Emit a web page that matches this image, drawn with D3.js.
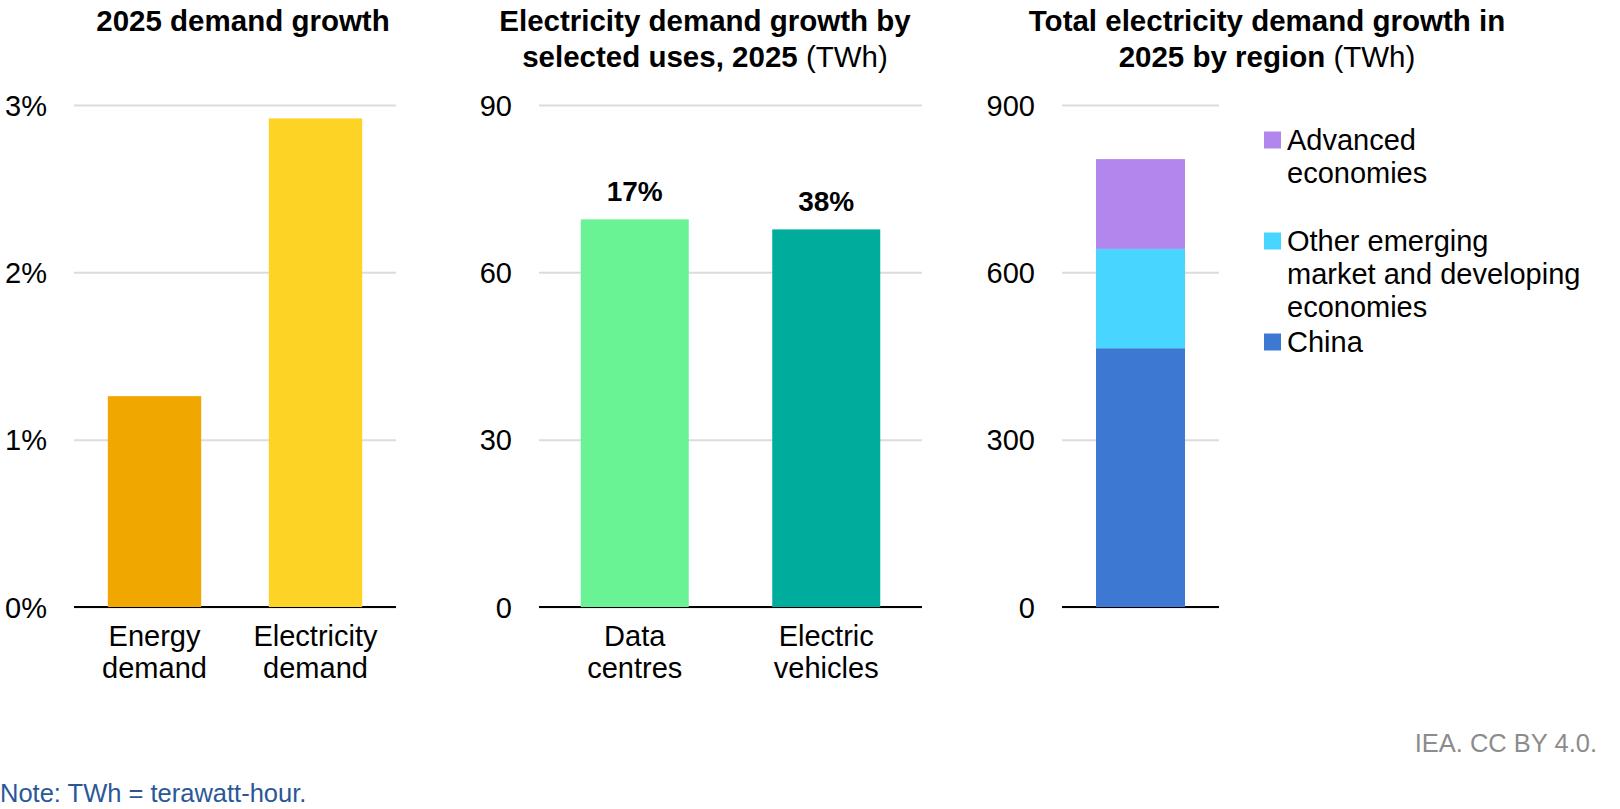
<!DOCTYPE html>
<html>
<head>
<meta charset="utf-8">
<script src="https://cdn.jsdelivr.net/npm/d3@7"></script>
<style>
    body { margin: 0; background: #fff; }
    svg { display: block; font-family: "Liberation Sans", Arial, sans-serif; }
    .grid line { stroke: #dcdcdc; stroke-width: 2; }
    .grid text { font-size: 29px; fill: #000; }
</style>
</head>
<body>
<div class="container"></div>
<script>
// panel 1: 2025 demand growth (%)
var demandCats = ['Energy demand', 'Electricity demand'];
var demandGrowth = [1.26, 2.92];
var demandTicks = [0, 1, 2, 3];
var demandColors = ['#f0a800', '#fdd325'];

// panel 2: growth by selected uses (TWh)
var useCats = ['Data centres', 'Electric vehicles'];
var useValues = [69.5, 67.7];
var useLabels = ['17%', '38%'];
var useTicks = [0, 30, 60, 90];
var useColors = ['#69f394', '#00ad9d'];

// panel 3: growth by region (TWh), stacked bottom -> top
var regionNames = ['China', 'Other emerging\nmarket and developing\neconomies', 'Advanced\neconomies'];
var regionValues = [464, 178, 161];
var regionTicks = [0, 300, 600, 900];
var regionColors = ['#3d78d3', '#48d5ff', '#b187ee'];

var W = 1620, H = 809;
var top0 = 105, base = 607;

var svg = d3.select('.container')
    .append('svg')
    .attr('width', W)
    .attr('height', H);

// gridlines + tick labels
function grid(x0, x1, y, ticks, fmt) {
    var axis = d3.axisLeft(y)
        .tickValues(ticks)
        .tickFormat(fmt)
        .tickSizeInner(-(x1 - x0))
        .tickSizeOuter(0)
        .tickPadding(27);
    var g = svg.append('g')
        .attr('class', 'grid')
        .attr('transform', 'translate(' + x0 + ',0)')
        .call(axis);
    g.select('.domain').remove();
    g.selectAll('text').attr('dy', '0.35em');
    // baseline
    svg.append('line')
        .attr('x1', x0).attr('x2', x1)
        .attr('y1', y(0)).attr('y2', y(0))
        .attr('stroke', '#000')
        .attr('stroke-width', 2);
}

function title(cx, lines) {
    lines.forEach(function (ln, i) {
        var t = svg.append('text')
            .attr('x', cx)
            .attr('y', 31 + i * 36)
            .attr('text-anchor', 'middle')
            .style('font-size', '29.5px');
        t.append('tspan').style('font-weight', 'bold').text(ln[0]);
        if (ln[1]) t.append('tspan').text(ln[1]);
    });
}

function catLabels(x, cats) {
    cats.forEach(function (c) {
        var words = c.split(' ');
        var t = svg.append('text')
            .attr('text-anchor', 'middle')
            .style('font-size', '29px');
        words.forEach(function (w, i) {
            t.append('tspan')
                .attr('x', x(c) + x.bandwidth() / 2)
                .attr('y', 646 + i * 32)
                .text(w);
        });
    });
}

!function () {
    var x0 = 74, x1 = 396;
    var y = d3.scaleLinear().domain([0, 3]).range([base, top0]);
    var x = d3.scaleBand().domain(demandCats).range([x0, x1]).paddingInner(0.42).paddingOuter(0.21);

    grid(x0, x1, y, demandTicks, function (d) { return d + '%'; });

    svg.selectAll('rect.demand')
        .data(demandGrowth)
        .enter()
        .append('rect')
        .attr('class', 'demand')
        .attr('x', function (d, i) { return x(demandCats[i]); })
        .attr('y', function (d) { return y(d); })
        .attr('width', x.bandwidth())
        .attr('height', function (d) { return y(0) - y(d); })
        .attr('fill', function (d, i) { return demandColors[i]; });

    catLabels(x, demandCats);
    title(243, [['2025 demand growth']]);
}();

!function () {
    var x0 = 539, x1 = 922;
    var y = d3.scaleLinear().domain([0, 90]).range([base, top0]);
    var x = d3.scaleBand().domain(useCats).range([x0, x1]).paddingInner(0.436).paddingOuter(0.218);

    grid(x0, x1, y, useTicks, d3.format('d'));

    svg.selectAll('rect.use')
        .data(useValues)
        .enter()
        .append('rect')
        .attr('class', 'use')
        .attr('x', function (d, i) { return x(useCats[i]); })
        .attr('y', function (d) { return y(d); })
        .attr('width', x.bandwidth())
        .attr('height', function (d) { return y(0) - y(d); })
        .attr('fill', function (d, i) { return useColors[i]; });

    svg.selectAll('text.uselabel')
        .data(useValues)
        .enter()
        .append('text')
        .attr('class', 'uselabel')
        .attr('x', function (d, i) { return x(useCats[i]) + x.bandwidth() / 2; })
        .attr('y', function (d) { return y(d) - 18; })
        .attr('text-anchor', 'middle')
        .style('font-size', '28px')
        .style('font-weight', 'bold')
        .text(function (d, i) { return useLabels[i]; });

    catLabels(x, useCats);
    title(705, [['Electricity demand growth by'], ['selected uses, 2025', ' (TWh)']]);
}();

!function () {
    var x0 = 1062, x1 = 1219;
    var y = d3.scaleLinear().domain([0, 900]).range([base, top0]);
    var x = d3.scaleBand().domain(['2025']).range([x0, x1]).paddingInner(0.433).paddingOuter(0.2165);

    grid(x0, x1, y, regionTicks, d3.format('d'));

    var row = {};
    regionNames.forEach(function (n, i) { row[n] = regionValues[i]; });
    var stack = d3.stack().keys(regionNames)([row]);

    svg.selectAll('rect.region')
        .data(stack)
        .enter()
        .append('rect')
        .attr('class', 'region')
        .attr('x', x('2025'))
        .attr('y', function (s) { return y(s[0][1]); })
        .attr('width', x.bandwidth())
        .attr('height', function (s) { return y(s[0][0]) - y(s[0][1]); })
        .attr('fill', function (s, i) { return regionColors[i]; });

    // legend, top item first
    var order = regionNames.map(function (n, i) { return i; }).reverse();
    var lg = svg.append('g').attr('transform', 'translate(1264,140)');
    order.forEach(function (idx, k) {
        var g = lg.append('g').attr('transform', 'translate(0,' + k * 101 + ')');
        g.append('rect')
            .attr('x', 0).attr('y', -8.5)
            .attr('width', 17).attr('height', 17)
            .attr('fill', regionColors[idx]);
        var t = g.append('text').style('font-size', '29px');
        regionNames[idx].split('\n').forEach(function (ln, j) {
            t.append('tspan')
                .attr('x', 23)
                .attr('y', 10 + j * 33)
                .text(ln);
        });
    });

    title(1267, [['Total electricity demand growth in'], ['2025 by region', ' (TWh)']]);
}();

// footer
svg.append('text')
    .attr('x', 1597)
    .attr('y', 752)
    .attr('text-anchor', 'end')
    .style('font-size', '25.5px')
    .attr('fill', '#8c8c8c')
    .text('IEA. CC BY 4.0.');

svg.append('text')
    .attr('x', 0)
    .attr('y', 802)
    .style('font-size', '25.5px')
    .attr('fill', '#2b5797')
    .text('Note: TWh = terawatt-hour.');
</script>
</body>
</html>
